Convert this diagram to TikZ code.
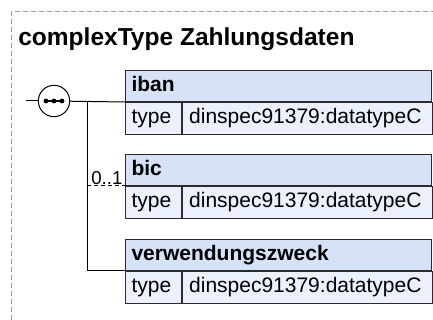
\documentclass[tikz,border=0pt]{standalone}
\usepackage{fontspec}
\setmainfont{Liberation Sans}
\usepackage{xcolor}
\definecolor{cHead} {HTML}{D5E2F7}
\definecolor{cRow}  {HTML}{EAF1FC}
\definecolor{cEdge} {HTML}{2B2B2B}
\definecolor{cFrame}{HTML}{9A9A9A}
\usetikzlibrary{positioning}
\tikzset{
  ttl/.style  = {anchor=base west, inner sep=0pt,
                 font=\bfseries\fontsize{18.4}{21}\selectfont},
  hdr/.style  = {rectangle, draw=cEdge, fill=cHead, line width=0.75pt,
                 anchor=north west, minimum width=229.5pt,
                 minimum height=23.25pt, text width=220.5pt,
                 inner xsep=4.5pt, align=left,
                 text height=11.5pt, text depth=3.5pt,
                 font=\bfseries\fontsize{15.75}{18}\selectfont},
  key/.style  = {rectangle, draw=cEdge, fill=cRow, line width=0.75pt,
                 minimum width=42pt, minimum height=24pt,
                 text width=33pt, inner xsep=4.5pt, align=left,
                 text height=11.5pt, text depth=3.5pt,
                 font=\fontsize{15.75}{18}\selectfont},
  val/.style  = {key, minimum width=187.5pt, text width=177.5pt,
                 inner xsep=5pt},
  seqc/.style = {circle, draw=black, fill=white, line width=0.75pt,
                 minimum size=23.5pt, inner sep=0pt},
  conn/.style = {draw=black, line width=0.75pt},
  opt/.style  = {conn, dash pattern=on 3pt off 2.25pt},
  mult/.style = {inner xsep=1.5pt, inner ysep=0.75pt,
                 font=\fontsize{14}{16}\selectfont},
  frame/.style= {draw=cFrame, line width=0.75pt,
                 dash pattern=on 3.75pt off 2.25pt},
}
\begin{document}
\begin{tikzpicture}[x=0.75pt, y=0.75pt]
  \useasboundingbox (0,0) rectangle (433,320);

  %% --- frame and title ---
  \draw[frame] (11,0) -- (11,308) -- (433,308);
  \node[ttl] (title) at (18,274) {complexType Zahlungsdaten};

  %% --- iban ---
  \node[hdr] (iban) at (125,250) {iban};
  \node[key, below right=0pt and 0pt of iban.south west] (ibanK) {type};
  \node[val, right=0pt of ibanK] (ibanV) {dinspec91379:datatypeC};

  %% --- bic ---
  \node[hdr] (bic) at (125,166) {bic};
  \node[key, below right=0pt and 0pt of bic.south west] (bicK) {type};
  \node[val, right=0pt of bicK] (bicV) {dinspec91379:datatypeC};

  %% --- verwendungszweck ---
  \node[hdr] (verw) at (125,81) {verwendungszweck};
  \node[key, below right=0pt and 0pt of verw.south west] (verwK) {type};
  \node[val, right=0pt of verwK] (verwV) {dinspec91379:datatypeC};

  %% --- sequence ---
  \coordinate (in)   at (26,219);
  \coordinate (fork) at (87,219);
  \node[seqc] (seq) at (54,219) {};
  \draw[line width=0.9pt] ([xshift=-6pt]seq.center) -- ([xshift=6pt]seq.center);
  \fill ([xshift=-6pt]seq.center) circle[radius=1.8pt];
  \fill (seq.center) circle[radius=1.8pt];
  \fill ([xshift=6pt]seq.center) circle[radius=1.8pt];

  %% --- connectors ---
  \draw[conn] (in) -- (seq);
  \draw[conn] (seq) -- (iban.south west);
  \draw[conn] (fork) |- (verw.south west);
  \draw[opt] (fork |- bic.south west) -- (bic.south west)
        node[pos=1, above left, mult] (bicM) {0..1};

\end{tikzpicture}
\end{document}
